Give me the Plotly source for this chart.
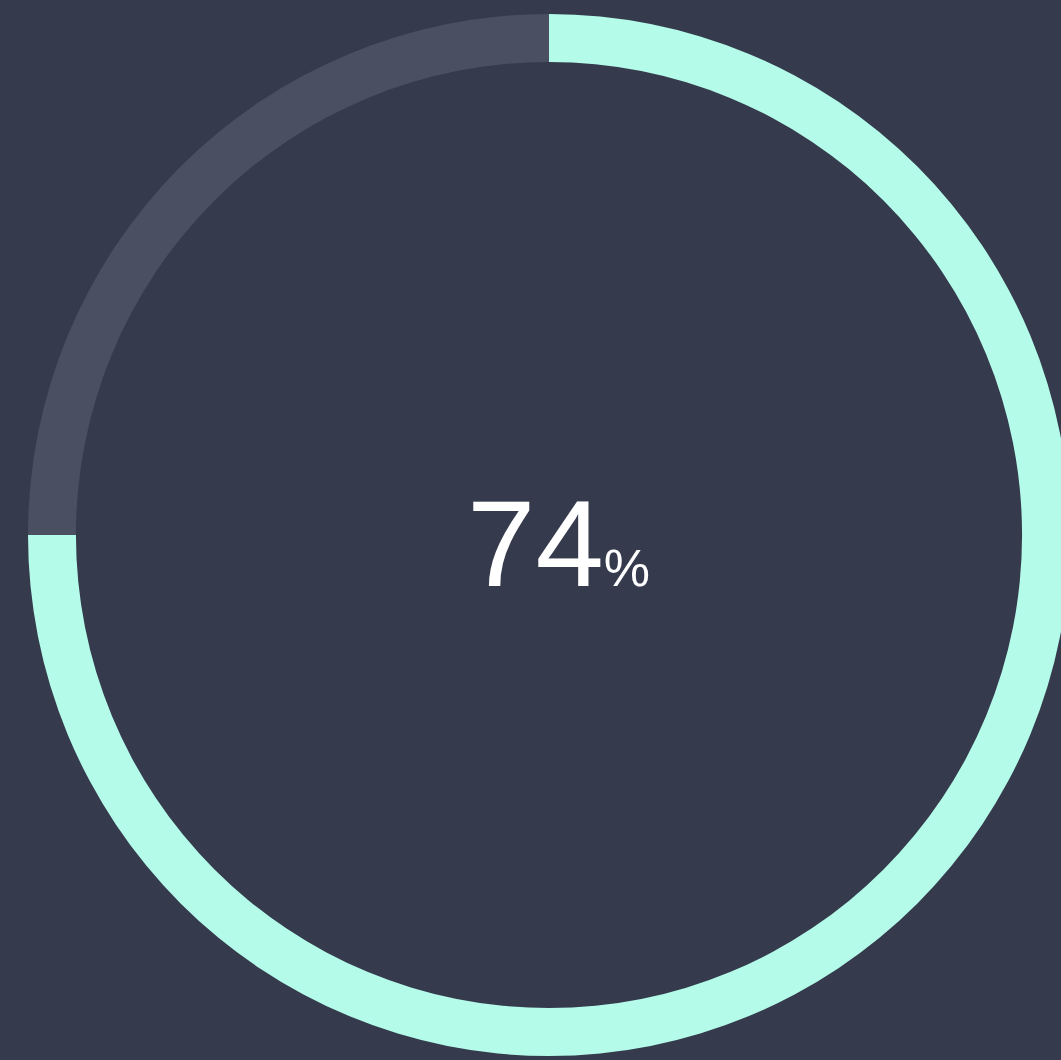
import plotly.graph_objects as go

# Data
segment_labels = ["Complete", "Remaining"]
segment_values = [75, 25]
display_value = 74
segment_colors = ["#b5fbea", "#4a5061"]

BG = "#353b4d"
FIG_W, FIG_H = 1100, 1060

fig = go.Figure(
    go.Pie(
        labels=segment_labels,
        values=segment_values,
        hole=0.908,
        sort=False,
        direction="clockwise",
        rotation=0,
        marker=dict(colors=segment_colors, line=dict(width=0)),
        textinfo="none",
        hoverinfo="skip",
        showlegend=False,
        domain=dict(x=[28 / FIG_W, 1070 / FIG_W], y=[4 / FIG_H, 1046 / FIG_H]),
    )
)

fig.add_annotation(
    x=558 / FIG_W,
    y=1 - 543 / FIG_H,
    xref="paper",
    yref="paper",
    xanchor="center",
    yanchor="middle",
    showarrow=False,
    text=f"{display_value}<span style='font-size:52px'>%</span>",
    font=dict(family="Liberation Sans", size=123, color="#ffffff"),
)

fig.update_layout(
    width=FIG_W,
    height=FIG_H,
    margin=dict(l=0, r=0, t=0, b=0),
    paper_bgcolor=BG,
    plot_bgcolor=BG,
)

fig.write_html(
    "out.html",
    config={"displayModeBar": False},
    post_script="document.body.style.margin='0';document.body.style.overflow='hidden';document.body.style.background='" + BG + "';",
)
